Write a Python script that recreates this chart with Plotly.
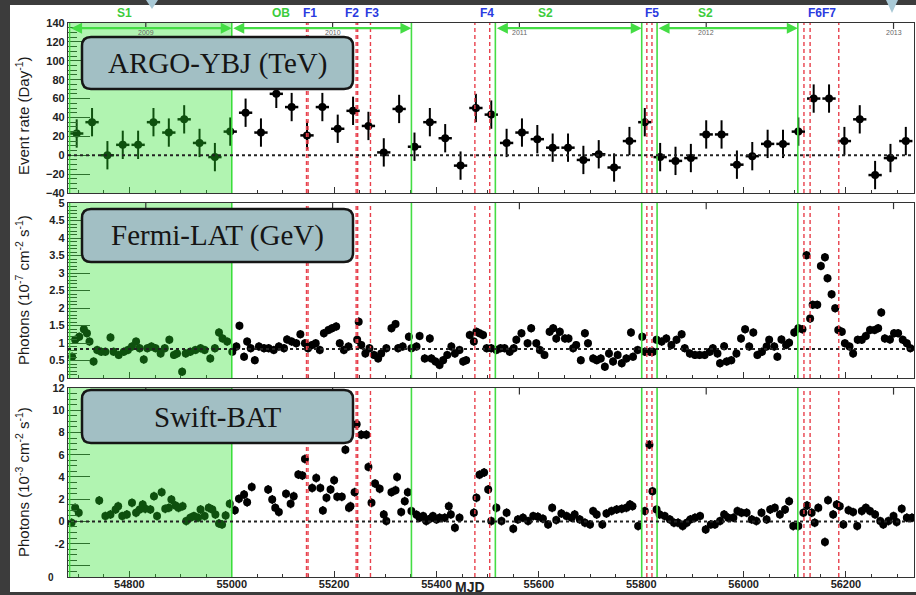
import plotly.graph_objects as go

# ---------------- data ----------------
argo_mjd = [54697, 54727, 54757, 54787, 54817, 54847, 54877, 54907, 54937, 54967,
            54997, 55027, 55057, 55087, 55117, 55147, 55177, 55207, 55237, 55267,
            55297, 55327, 55357, 55387, 55417, 55447, 55477, 55507, 55537, 55567,
            55597, 55627, 55657, 55687, 55717, 55747, 55777, 55807, 55837, 55867,
            55897, 55927, 55957, 55987, 56017, 56047, 56077, 56107, 56137, 56167,
            56197, 56227, 56257, 56287, 56317]
argo_rate = [23, 35, 0, 11, 11, 35, 24, 38, 13, -2,
             25, 45, 24, 65, 51, 21, 51, 28, 47, 31,
             3, 49, 9, 35, 18, -11, 50, 43, 13, 24,
             17, 8, 8, -5, 1, -13, 15, 35, -2, -6,
             -3, 22, 22, -10, -1, 12, 12, 25, 60, 60,
             15, 38, -21, -3, 15]

fermi_mjd = [54688, 54694, 54702, 54711, 54717, 54722, 54730, 54737, 54745, 54753,
             54763, 54769, 54779, 54789, 54797, 54805, 54813, 54820, 54828, 54835,
             54843, 54851, 54861, 54869, 54878, 54887, 54893, 54903, 54910, 54919,
             54929, 54939, 54947, 54958, 54967, 54975, 54982, 54991, 55001, 55009,
             55015, 55024, 55030, 55037, 55045, 55053, 55063, 55072, 55082, 55092,
             55102, 55108, 55117, 55126, 55134, 55143, 55149, 55157, 55164, 55172,
             55180, 55189, 55196, 55204, 55211, 55219, 55228, 55245, 55248, 55253,
             55261, 55269, 55278, 55286, 55292, 55302, 55312, 55320, 55325, 55334,
             55346, 55351, 55361, 55367, 55377, 55387, 55390, 55398, 55406, 55413,
             55421, 55429, 55436, 55445, 55452, 55458, 55465, 55473, 55478, 55484,
             55491, 55498, 55507, 55517, 55525, 55533, 55543, 55551, 55556, 55566,
             55578, 55585, 55595, 55602, 55611, 55621, 55628, 55634, 55641, 55651,
             55658, 55667, 55673, 55682, 55690, 55696, 55706, 55713, 55721, 55729,
             55737, 55745, 55754, 55762, 55771, 55780, 55784, 55793, 55802, 55807,
             55817, 55823, 55830, 55840, 55849, 55859, 55869, 55879, 55885, 55895,
             55905, 55914, 55924, 55934, 55940, 55949, 55954, 55962, 55967, 55976,
             55986, 55995, 56003, 56011, 56019, 56027, 56036, 56045, 56050, 56060,
             56066, 56074, 56083, 56089, 56099, 56107, 56115, 56123, 56130, 56135,
             56144, 56151, 56159, 56164, 56172, 56179, 56185, 56192, 56198, 56207,
             56214, 56223, 56231, 56239, 56247, 56256, 56263, 56269, 56276, 56286,
             56294, 56302, 56311, 56319, 56326]
fermi_flux = [0.61, 1.09, 1.18, 1.39, 1.28, 1.04, 0.47, 0.80, 0.75, 0.75,
              1.16, 0.75, 0.66, 0.75, 0.80, 0.90, 1.04, 0.85, 0.53, 0.85,
              0.90, 0.85, 0.70, 0.85, 1.09, 0.66, 0.70, 0.18, 0.70, 0.75,
              0.80, 0.85, 0.80, 0.56, 0.85, 1.30, 1.13, 1.04, 0.75, 0.90,
              1.49, 0.61, 1.04, 0.85, 0.51, 0.90, 0.85, 0.85, 0.80, 0.90,
              0.85, 1.10, 1.04, 0.99, 1.25, 0.99, 0.85, 0.94, 0.99, 0.80,
              1.28, 1.37, 1.42, 1.47, 0.99, 0.80, 0.90, 1.09, 1.61, 0.94,
              0.70, 0.85, 0.66, 0.56, 0.70, 0.85, 1.42, 1.54, 0.85, 0.90,
              1.18, 0.85, 0.90, 1.20, 0.56, 1.13, 0.56, 0.47, 0.37, 0.51,
              0.66, 0.90, 0.70, 0.80, 0.47, 0.51, 1.23, 1.04, 1.32, 1.28,
              1.23, 0.85, 0.85, 0.80, 0.85, 0.85, 0.75, 0.85, 1.09, 1.28,
              0.99, 1.42, 0.99, 0.80, 0.66, 1.32, 1.42, 1.13, 1.32, 1.13,
              1.13, 0.85, 0.94, 0.51, 1.28, 0.99, 0.56, 0.51, 0.56, 0.32,
              0.70, 0.47, 0.66, 0.42, 0.56, 1.30, 0.61, 0.80, 1.18, 0.75,
              0.75, 0.75, 1.09, 1.04, 1.13, 0.94, 1.09, 1.25, 0.85, 0.70,
              0.66, 0.66, 0.66, 0.75, 0.85, 0.70, 0.42, 0.91, 0.47, 0.51,
              0.70, 1.13, 1.39, 0.90, 1.30, 0.66, 0.75, 0.90, 1.09, 0.90,
              0.61, 1.10, 0.94, 1.01, 1.30, 1.42, 1.39, 3.51, 1.70, 2.09,
              2.09, 3.20, 3.45, 2.85, 2.39, 1.99, 1.37, 1.32, 0.99, 0.90,
              0.70, 1.09, 1.09, 1.20, 1.37, 1.37, 1.42, 1.87, 1.13, 1.10,
              1.28, 1.28, 1.09, 0.99, 0.85]

swift_mjd = [54687, 54694, 54701, 54741, 54753, 54763, 54773, 54778, 54786, 54795,
             54805, 54813, 54820, 54826, 54831, 54841, 54848, 54854, 54863, 54870,
             54877, 54882, 54890, 54896, 54904, 54911, 54919, 54926, 54934, 54939,
             54947, 54955, 54962, 54968, 54975, 54981, 54988, 54996, 55006, 55014,
             55024, 55030, 55039, 55071, 55079, 55085, 55092, 55106, 55115, 55121,
             55130, 55138, 55143, 55157, 55165, 55173, 55178, 55185, 55193, 55200,
             55206, 55215, 55222, 55229, 55232, 55240, 55244, 55253, 55263, 55267,
             55273, 55280, 55289, 55297, 55302, 55312, 55320, 55323, 55331, 55338,
             55344, 55351, 55361, 55367, 55374, 55380, 55387, 55393, 55400, 55406,
             55416, 55424, 55428, 55436, 55445, 55473, 55478, 55484, 55493, 55501,
             55507, 55517, 55527, 55537, 55550, 55559, 55569, 55579, 55589, 55598,
             55608, 55618, 55626, 55634, 55644, 55654, 55664, 55670, 55680, 55690,
             55700, 55706, 55713, 55724, 55732, 55742, 55752, 55762, 55771, 55778,
             55783, 55794, 55807, 55816, 55822, 55830, 55836, 55846, 55856, 55864,
             55872, 55881, 55889, 55896, 55905, 55915, 55926, 55936, 55944, 55954,
             55962, 55970, 55980, 55988, 55996, 56006, 56016, 56025, 56035, 56045,
             56052, 56061, 56071, 56081, 56089, 56097, 56107, 56117, 56124, 56133,
             56139, 56146, 56159, 56165, 56175, 56182, 56188, 56195, 56205, 56214,
             56222, 56231, 56239, 56247, 56257, 56267, 56273, 56283, 56293, 56299,
             56309, 56319, 56329]
swift_flux = [-0.12, 1.22, 0.78, 1.88, 0.48, 0.63, 1.07, 1.37, 0.48, 0.63,
              1.67, 0.78, 1.07, 1.52, 1.13, 1.07, 2.27, 0.48, 2.63, 1.13,
              1.22, 1.97, 1.43, 1.22, 1.37, 0.03, 0.33, 0.48, 0.33, 1.07,
              0.48, 1.22, 1.07, 0.63, -0.18, -0.27, 0.54, 1.58, 1.01, 2.03,
              2.42, 1.73, 3.10, 2.87, 1.97, 1.22, 0.84, 2.48, 1.58, 2.27,
              4.21, 4.12, 5.61, 3.01, 3.91, 3.01, 0.99, 2.12, 2.87, 3.70,
              2.21, 2.21, 6.45, 1.22, 1.37, 2.63, 8.75, 7.80, 7.80, 4.90,
              1.67, 3.40, 2.93, 0.63, 0.03, 2.63, 2.81, 4.00, 0.84, 1.82,
              2.63, 0.93, 0.60, 0.33, 0.48, 0.03, 0.24, 0.48, 0.18, 0.33,
              0.33, 1.37, 0.63, -0.57, 0.33, 0.78, 2.12, 4.20, 4.40, 2.87,
              0.03, 1.22, 0.03, 0.78, -0.66, 0.18, 0.33, 0.03, 0.48, 0.42,
              0.24, -0.27, 1.22, 0.12, 0.72, 0.48, 0.33, 0.63, 0.18, -0.12,
              -0.27, 0.93, 0.63, -0.27, 0.72, 0.93, 1.07, 1.13, 1.22, 1.52,
              1.37, -0.42, 0.93, 6.90, 2.72, 1.07, 0.63, 0.48, 0.18, -0.12,
              -0.12, -0.42, -0.12, 0.18, 0.33, 0.48, -0.72, -0.27, -0.27, 0.03,
              0.63, 0.33, 0.33, 0.93, 0.78, 0.78, 0.18, 0.03, 0.78, 0.18,
              1.07, 1.22, 0.63, 1.07, 1.82, -0.42, -0.42, 0.78, 1.43, 0.78,
              -0.12, 1.22, -1.85, 1.91, 0.63, 1.52, 1.37, -0.27, 1.01, 0.84,
              -0.42, 0.93, 1.22, 0.93, 0.63, 0.03, -0.27, 0.03, 0.48, -0.06,
              1.13, 0.33, 0.33]

# periods / flares (MJD)
steady_edges = [54683, 55000, 55351, 55515, 55801, 55831, 56106]
flare_lines = [55146, 55149, 55243, 55246, 55271, 55475, 55504, 55811, 55821, 56118, 56130, 56186]
period_arrows = [(54683, 55000), (55000, 55351), (55515, 55801), (55831, 56106)]
top_labels = ["S1", "OB", "F1", "F2", "F3", "F4", "S2", "F5", "S2", "F6F7"]
top_label_mjd = [54790, 55097, 55152, 55234, 55273, 55498, 55613, 55821, 55926, 56153]
top_label_kind = ["s", "s", "f", "f", "f", "f", "s", "f", "s", "f"]
year_labels = ["2009", "2010", "2011", "2012", "2013"]
year_mjd = [54832, 55197, 55562, 55927, 56293]
x_ticks = [54800, 55000, 55200, 55400, 55600, 55800, 56000, 56200]
panel_names = ["ARGO-YBJ (TeV)", "Fermi-LAT (GeV)", "Swift-BAT"]
baselines = [0, 0.83, 0]

# ---------------- layout helpers ----------------
L, R, T, B = 68, 914, 23, 577
W_, H_ = R - L, B - T


def pp(xp, yp):
    return (xp - L) / W_, (B - yp) / H_


def rounded_rect(x0, y0, x1, y1, r):
    ax0, ay1 = pp(x0, y0)
    ax1, ay0 = pp(x1, y1)
    rx, ry = r / W_, r / H_
    return (f"M {ax0+rx},{ay1} L {ax1-rx},{ay1} Q {ax1},{ay1} {ax1},{ay1-ry} "
            f"L {ax1},{ay0+ry} Q {ax1},{ay0} {ax1-rx},{ay0} L {ax0+rx},{ay0} "
            f"Q {ax0},{ay0} {ax0},{ay0+ry} L {ax0},{ay1-ry} Q {ax0},{ay1} {ax0+rx},{ay1} Z")


fig = go.Figure()

ax_names = [("x", "y"), ("x2", "y2"), ("x3", "y3")]
datasets = [
    (argo_mjd, argo_rate, 15, 13, 2, 8),
    (fermi_mjd, fermi_flux, 0.12, 4, 1.5, 8),
    (swift_mjd, swift_flux, 0.4, 4, 1.5, 8),
]
for (xa, ya), (xs, ys, ey, ex, th, ms) in zip(ax_names, datasets):
    fig.add_trace(go.Scatter(
        x=xs, y=ys, mode="markers", xaxis=xa, yaxis=ya,
        marker=dict(color="black", size=ms, symbol="circle"),
        error_y=dict(type="constant", value=ey, color="black", thickness=th, width=0),
        error_x=dict(type="constant", value=ex, color="black", thickness=2.5 if xa == "x" else 3, width=0),
        showlegend=False, hoverinfo="skip"))

shapes = []
annotations = []

# white figure sheet
sx0, sy1 = pp(10, 5)
sx1, sy0 = pp(916, 592)
shapes.append(dict(type="rect", xref="paper", yref="paper", x0=sx0, x1=sx1, y0=sy0, y1=sy1,
                   fillcolor="white", line=dict(width=0), layer="below"))
# slide pointer triangles
for (a, b, c) in [((146, 0), (158, 0), (152, 9)), ((886, 0), (898, 0), (892, 13))]:
    pa, pb, pc = pp(*a), pp(*b), pp(*c)
    shapes.append(dict(type="path", xref="paper", yref="paper",
                       path=f"M {pa[0]},{pa[1]} L {pb[0]},{pb[1]} L {pc[0]},{pc[1]} Z",
                       fillcolor="#a9c9d6", line=dict(width=0), layer="above"))

for i, (xa, ya) in enumerate(ax_names):
    ydom = ya + " domain"
    # red dashed flare lines
    for m in flare_lines:
        shapes.append(dict(type="line", xref=xa, yref=ydom, x0=m, x1=m, y0=0, y1=1,
                           line=dict(color="#e8404c", width=1.4, dash="4px,3px"), layer="above"))
    # green boundaries
    for m in steady_edges:
        shapes.append(dict(type="line", xref=xa, yref=ydom, x0=m, x1=m, y0=0, y1=1,
                           line=dict(color="#44dd44", width=1.6), layer="above"))
    # S1 shaded region
    shapes.append(dict(type="rect", xref=xa, yref=ydom, x0=steady_edges[0], x1=steady_edges[1],
                       y0=0, y1=1, fillcolor="rgba(40,225,40,0.36)", line=dict(width=0), layer="above"))
    # dotted baseline
    shapes.append(dict(type="line", xref=xa + " domain", yref=ya, x0=0, x1=1,
                       y0=baselines[i], y1=baselines[i],
                       line=dict(color="#222", width=2, dash="dot"), layer="above"))
    # year ticks on top
    for m in year_mjd:
        shapes.append(dict(type="line", xref=xa, yref=ydom, x0=m, x1=m, y0=1, y1=0.965,
                           line=dict(color="#333", width=1.2), layer="above"))

# label boxes
box_y = [(37, 89), (209, 262), (390, 443)]
for name, (y0, y1) in zip(panel_names, box_y):
    shapes.append(dict(type="path", xref="paper", yref="paper", path=rounded_rect(82, y0, 353, y1, 9),
                       fillcolor="#a2bfc4", line=dict(color="#161616", width=2.5), layer="above"))
    cx, cy = pp(217.5, (y0 + y1) / 2)
    annotations.append(dict(xref="paper", yref="paper", x=cx, y=cy, text=name, showarrow=False,
                            font=dict(family="Liberation Serif, Times New Roman, serif", size=29, color="#151515"),
                            xanchor="center", yanchor="middle"))

# period arrows in top panel
for a, b in period_arrows:
    annotations.append(dict(xref="x", yref="y", axref="x", ayref="y", x=b, y=134.5, ax=a, ay=134.5,
                            text="", showarrow=True, arrowhead=2, arrowside="end+start",
                            arrowsize=1, arrowwidth=2.2, arrowcolor="#44dd44"))

# year labels
for t, m in zip(year_labels, year_mjd):
    annotations.append(dict(xref="x", yref="y", x=m, y=129.5, text=t, showarrow=False,
                            font=dict(family="Arial", size=7, color="#666")))

# top labels
for t, m, k in zip(top_labels, top_label_mjd, top_label_kind):
    annotations.append(dict(xref="x", yref="paper", x=m, y=pp(0, 13)[1], text=t, showarrow=False,
                            font=dict(family="Arial", size=12, color="#2a3ae0" if k == "f" else "#3ccc3c",
                                      weight="bold"),
                            xanchor="center", yanchor="middle"))

# y titles
ytitles = ["Event rate (Day<sup>-1</sup>)",
           "Photons (10<sup>-7</sup> cm<sup>-2</sup> s<sup>-1</sup>)",
           "Photons (10<sup>-3</sup> cm<sup>-2</sup> s<sup>-1</sup>)"]
ycent = [116, 290, 482]
for t, yc in zip(ytitles, ycent):
    px_, py_ = pp(22, yc)
    annotations.append(dict(xref="paper", yref="paper", x=px_, y=py_, text=t, showarrow=False,
                            textangle=-90, font=dict(family="Arial", size=15, color="#1a1a1a"),
                            xanchor="center", yanchor="middle"))

# odd bottom "0" label and MJD title
px_, py_ = pp(46, 577)
annotations.append(dict(xref="paper", yref="paper", x=px_, y=py_, text="0", showarrow=False,
                        font=dict(family="Arial", size=10, color="#222", weight="bold"),
                        yanchor="middle"))
px_, py_ = pp(470, 587)
annotations.append(dict(xref="paper", yref="paper", x=px_, y=py_, text="MJD", showarrow=False,
                        font=dict(family="Arial", size=14, color="#222", weight="bold"),
                        yanchor="middle"))

# ---------------- axes ----------------
tickfont = dict(family="Arial", size=11, color="#222", weight="bold")
xcommon = dict(range=[54680, 56333], showline=True, linecolor="#333", linewidth=1.3, mirror=True,
               ticks="inside", tickvals=x_ticks, tickformat="d", ticklen=6, tickcolor="#333", tickwidth=1,
               minor=dict(ticks="inside", dtick=50, tick0=54800, ticklen=3, tickcolor="#333"),
               showgrid=False, zeroline=False, tickfont=tickfont, automargin=False,
               ticklabelstandoff=-3)
ycommon = dict(showline=True, linecolor="#333", linewidth=1.3, mirror=True, ticks="inside",
               ticklen=22, tickcolor="#333", tickwidth=1, showgrid=False, zeroline=False,
               tickfont=tickfont, automargin=False)


def dom(ytop, ybot):
    return [(B - ybot) / H_, (B - ytop) / H_]


y1_ticks = [-40, -20, 0, 20, 40, 60, 80, 100, 120, 140]
y2_ticks = [0, 0.5, 1, 1.5, 2, 2.5, 3, 3.5, 4, 4.5, 5]
y2_text = ["0", "0.5", "1", "1.5", "2", "2.5", "3", "3.5", "4", "4.5", "5"]
y3_ticks = [-4, -2, 0, 2, 4, 6, 8, 10, 12]
y3_text = ["", "-2", "0", "2", "4", "6", "8", "10", "12"]

fig.update_layout(
    width=916, height=595,
    margin=dict(l=L, r=916 - R, t=T, b=595 - B, autoexpand=False),
    paper_bgcolor="#3c3c3c", plot_bgcolor="white",
    xaxis=dict(xcommon, anchor="y", showticklabels=False),
    xaxis2=dict(xcommon, anchor="y2", matches="x", showticklabels=False),
    xaxis3=dict(xcommon, anchor="y3", matches="x", showticklabels=True),
    yaxis=dict(ycommon, domain=dom(23, 193), range=[-40, 140], tickvals=y1_ticks,
               minor=dict(ticks="inside", dtick=5, ticklen=9, tickcolor="#333")),
    yaxis2=dict(ycommon, domain=dom(203, 378), range=[0, 5], tickvals=y2_ticks, ticktext=y2_text,
                minor=dict(ticks="inside", dtick=0.1, ticklen=9, tickcolor="#333")),
    yaxis3=dict(ycommon, domain=dom(388, 577), range=[-5, 12], tickvals=y3_ticks, ticktext=y3_text,
                minor=dict(ticks="inside", dtick=0.5, tick0=0, ticklen=9, tickcolor="#333")),
    shapes=shapes, annotations=annotations,
    showlegend=False,
)

fig.write_html("out.html", config={"displayModeBar": False},
               post_script="document.body.style.margin='0';document.body.style.background='#3c3c3c';document.body.style.overflow='hidden';")
